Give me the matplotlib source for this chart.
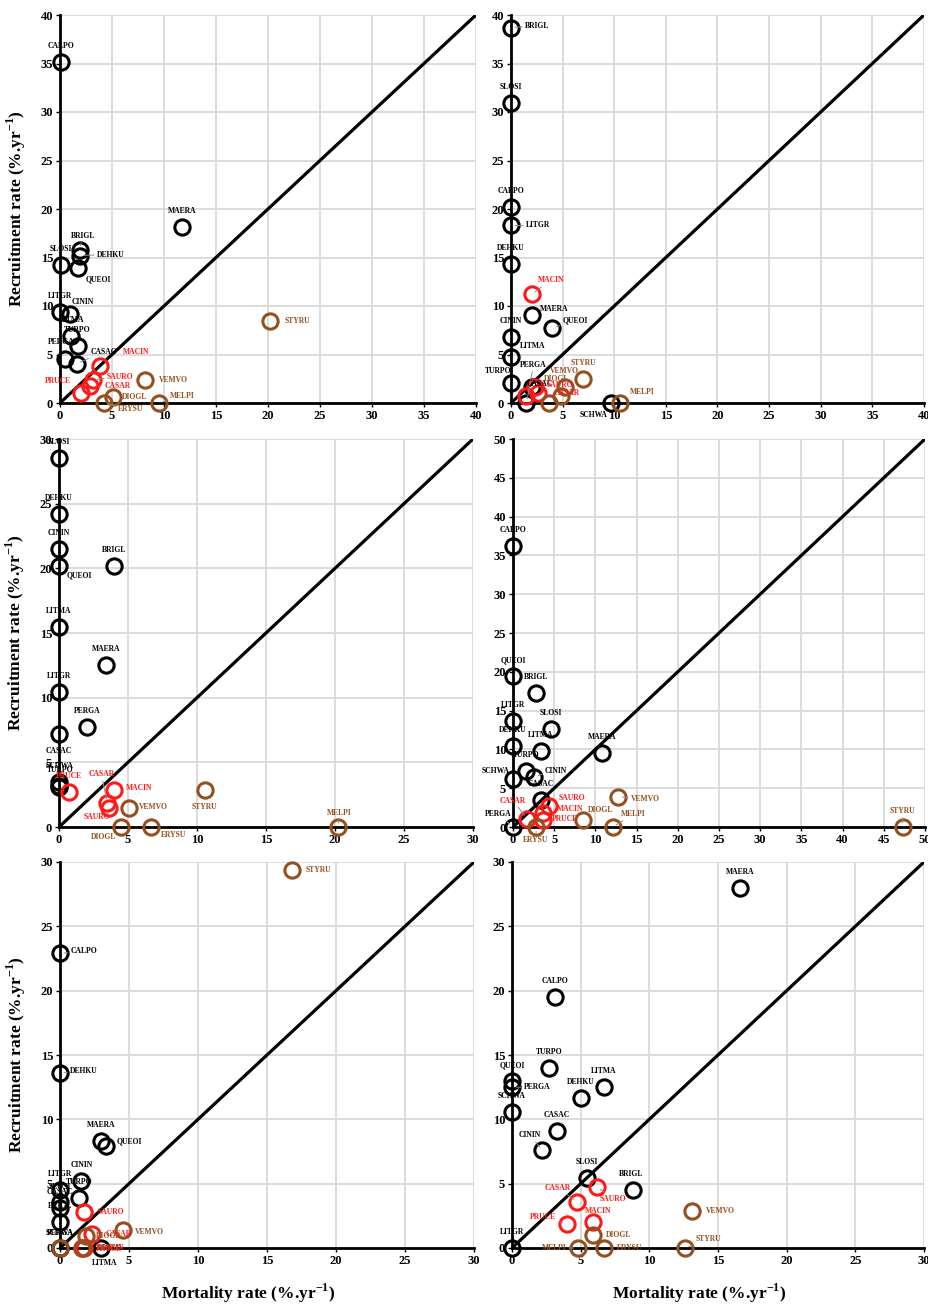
import numpy as np
import matplotlib
matplotlib.use('Agg')
import matplotlib.pyplot as plt

plt.rcParams['font.family'] = ['Liberation Serif', 'DejaVu Serif']
plt.rcParams['font.weight'] = 'bold'
plt.rcParams['mathtext.fontset'] = 'custom'
plt.rcParams['mathtext.rm'] = 'Liberation Serif:bold'
plt.rcParams['mathtext.bf'] = 'Liberation Serif:bold'

nan = np.nan

# Especies y grupo (1 = negro, 2 = rojo, 3 = marron)
especies = ['CALPO', 'BRIGL', 'SLOSI', 'DEHKU', 'QUEOI', 'LITGR', 'CININ', 'LITMA',
            'TURPO', 'PERGA', 'CASAC', 'MAERA', 'SCHWA',
            'MACIN', 'SAURO', 'CASAR', 'PRUCE',
            'STYRU', 'VEMVO', 'DIOGL', 'ERYSU', 'MELPI']
grupo = [1] * 13 + [2] * 4 + [3] * 5

# Mortalidad / reclutamiento por panel (%.yr-1)
mort_1 = [0.1, 1.9, 0.05, 1.9, 1.7, 0.0, 1.0, 1.1, 1.7, 0.5, 1.6, 11.7, nan,
          3.8, 3.2, 2.9, 2.0, 20.2, 8.2, 5.1, 4.2, 9.5]
rec_1 = [35.2, 15.8, 14.2, 15.2, 13.9, 9.4, 9.2, 6.9, 5.9, 4.5, 4.05, 18.1, nan,
         3.85, 2.4, 1.8, 1.0, 8.5, 2.4, 0.6, 0.0, 0.0]

mort_2 = [0, 0, 0, 0, 4.0, 0, 0, 0, 0, 1.5, 2.0, 2.0, 9.7,
          2.0, 2.3, 2.6, 1.45, 7.0, 5.2, 4.8, 3.7, 10.6]
rec_2 = [20.2, 38.7, 30.9, 14.3, 7.7, 18.3, 6.8, 4.7, 2.1, 0, 1.6, 9.1, 0,
         11.2, 1.7, 1.0, 0.7, 2.5, 1.6, 0.7, 0, 0]

mort_3 = [0, 4.0, 0, 0, 0, 0, 0, 0, 0, 2.05, 0, 3.4, 0,
          4.0, 3.6, 3.5, 0.7, 10.55, 5.05, 4.5, 6.7, 20.2]
rec_3 = [7.2, 20.2, 28.5, 24.2, 20.2, 10.4, 21.5, 15.45, 3.1, 7.7, 3.5, 12.5, 3.2,
         2.85, 1.45, 1.85, 2.7, 2.85, 1.5, 0, 0, 0]

mort_4 = [0, 2.8, 4.6, 0, 0, 0, 2.55, 3.4, 1.55, 0, 3.4, 10.8, 0,
          3.6, 4.4, 1.7, 3.6, 47.3, 12.75, 8.5, 2.8, 12.1]
rec_4 = [36.2, 17.3, 12.6, 10.4, 19.45, 13.6, 6.5, 9.8, 7.2, 0, 3.5, 9.5, 6.2,
         1.8, 2.7, 1.08, 0.95, 0, 3.9, 0.95, 0, 0]

mort_5 = [0, 0, 0, 0, 3.35, 0, 1.55, 3.0, 1.4, 0, 0, 2.95, 0,
          1.75, 1.75, 2.3, 1.6, 16.8, 4.55, 1.9, 1.6, 0]
rec_5 = [22.9, 2.0, 3.6, 13.6, 7.95, 4.5, 5.2, 0, 3.9, 0, 3.1, 8.3, 0,
         0, 2.8, 1.1, 0, 29.4, 1.4, 0.9, 0, 0]

mort_6 = [3.15, 8.8, 5.45, 5.0, 0, 0, 2.2, 6.7, 2.7, 0, 3.28, 16.6, 0,
          5.9, 6.2, 4.75, 4.0, 12.6, 13.1, 5.9, 6.7, 4.8]
rec_6 = [19.5, 4.5, 5.45, 11.67, 12.95, 0, 7.6, 12.5, 14.0, 12.5, 9.1, 28.0, 10.56,
         2.05, 4.75, 3.6, 1.86, 0, 2.9, 1.0, 0, 0]

limites = [40, 40, 30, 50, 30, 30]

# Posicion de las etiquetas (pixeles respecto al punto, linea guia); por defecto encima
etiq = [
    {'BRIGL': (3, 14, 1), 'DEHKU': (31, 1, 1), 'QUEOI': (21, -11, 0), 'CININ': (12, 12, 0),
     'PERGA': (-4, 17, 0), 'CASAC': (27, 12, 1), 'MACIN': (37, 14, 0), 'SAURO': (27, 3, 1),
     'CASAR': (28, 0, 0), 'PRUCE': (-23, 12, 0), 'STYRU': (27, 0, 0), 'VEMVO': (28, 0, 0),
     'DIOGL': (22, 0, 0), 'ERYSU': (27, -6, 1), 'MELPI': (23, 7, 1)},
    {'BRIGL': (26, 2, 1), 'LITGR': (27, 0, 1), 'MAERA': (22, 6, 0), 'QUEOI': (23, 8, 1),
     'LITMA': (22, 11, 0), 'TURPO': (-13, 12, 0), 'PERGA': (7, 38, 1), 'SCHWA': (-18, -12, 0),
     'CASAC': (8, 3, 0), 'MACIN': (19, 14, 1), 'SAURO': (25, 2, 0), 'CASAR': (29, 0, 0),
     'PRUCE': None, 'DIOGL': (-4, 17, 0), 'MELPI': (22, 11, 0), 'ERYSU': None},
    {'QUEOI': (20, -10, 0), 'CALPO': None, 'CASAC': (0, 31, 0), 'SCHWA': (1, 20, 0),
     'TURPO': (1, 17, 0), 'CASAR': (-6, 29, 1), 'MACIN': (25, 2, 0), 'SAURO': (-12, -9, 0),
     'STYRU': (0, -17, 0), 'VEMVO': (25, 1, 0), 'DIOGL': (-18, -10, 0), 'ERYSU': (22, -8, 0),
     'MELPI': (2, 14, 1)},
    {'SCHWA': (-17, 8, 0), 'CININ': (22, 6, 1), 'PERGA': (-15, 13, 1), 'CASAR': (-14, 18, 1),
     'SAURO': (23, 8, 0), 'MACIN': (27, 4, 0), 'PRUCE': (22, 1, 0), 'VEMVO': (27, -2, 1),
     'DIOGL': (18, 10, 0), 'MELPI': (21, 13, 1), 'ERYSU': (0, -13, 1), 'STYRU': (0, 16, 1)},
    {'STYRU': (27, 0, 0), 'CALPO': (24, 2, 1), 'DEHKU': (24, 2, 1), 'QUEOI': (23, 4, 0),
     'SLOSI': (0, 15, 0), 'PERGA': (0, 15, 0), 'SCHWA': (0, 15, 0), 'LITMA': (3, -15, 0),
     'SAURO': (27, 0, 0), 'CASAR': (27, 0, 0), 'MACIN': (27, 0, 0), 'PRUCE': (27, -1, 0),
     'VEMVO': (27, -2, 0), 'DIOGL': (22, 0, 0), 'ERYSU': (27, 0, 0), 'MELPI': None},
    {'PERGA': (25, 0, 1), 'CININ': (-12, 15, 1), 'BRIGL': (-2, 16, 0), 'SAURO': (16, -12, 1),
     'CASAR': (-20, 14, 1), 'MACIN': (5, 11, 0), 'PRUCE': (-24, 7, 1), 'VEMVO': (28, 0, 0),
     'DIOGL': (26, 0, 0), 'MELPI': (-24, 0, 1), 'ERYSU': (26, 0, 0), 'STYRU': (23, 9, 1)},
]

colores = {1: 'black', 2: '#ff1a1a', 3: '#94501f'}

# Caja de cada panel en pixeles: izquierda, derecha, arriba, abajo
cajas = [(60, 476, 15, 403), (511, 924, 15, 403),
         (59, 473, 439, 827), (513, 925, 439, 827),
         (60, 474, 862, 1248), (512, 924, 862, 1248)]

W, H = 929, 1306
fig = plt.figure(figsize=(W / 100, H / 100), dpi=100)

mortalidad = [mort_1, mort_2, mort_3, mort_4, mort_5, mort_6]
reclutamiento = [rec_1, rec_2, rec_3, rec_4, rec_5, rec_6]

for i in range(6):
    l, r, t, b = cajas[i]
    ax = fig.add_axes([l / W, 1 - b / H, (r - l) / W, (b - t) / H])
    lim = limites[i]
    ax.set_xlim(0, lim)
    ax.set_ylim(0, lim)
    ax.set_xticks(np.arange(0, lim + 1, 5))
    ax.set_yticks(np.arange(0, lim + 1, 5))
    ax.grid(True, color='#d9d9d9', lw=1.3)
    ax.set_axisbelow(True)
    for s in ['top', 'right']:
        ax.spines[s].set_visible(False)
    for s in ['left', 'bottom']:
        ax.spines[s].set_linewidth(2)
    ax.tick_params(labelsize=9, length=3, width=1, pad=2)

    ax.plot([0, lim], [0, lim], color='black', lw=2.3, zorder=2)

    m = mortalidad[i]
    rc = reclutamiento[i]
    for g in [1, 2, 3]:
        for j, sp in enumerate(especies):
            if grupo[j] != g or np.isnan(m[j]):
                continue
            ax.plot(m[j], rc[j], 'o', ms=11, mfc='none', mec=colores[g], mew=2.2,
                    clip_on=False, zorder=4)
    for j, sp in enumerate(especies):
        if np.isnan(m[j]):
            continue
        pos = etiq[i].get(sp, (0, 16, 0))
        if pos is None:
            continue
        dx, dy, linea = pos
        props = None
        if linea:
            props = dict(arrowstyle='-', color='#8c8c8c', lw=0.7, shrinkA=0, shrinkB=3)
        ax.annotate(sp, (m[j], rc[j]), xytext=(dx, dy), textcoords='offset pixels',
                    ha='center', va='center', fontsize=5.5, fontweight='bold',
                    color=colores[grupo[j]], arrowprops=props, annotation_clip=False,
                    zorder=5)

    if i % 2 == 0:
        ax.set_ylabel('Recruitment rate (%.yr$^{\\mathbf{-1}}$)', fontsize=12.5,
                      fontweight='bold')
        ax.yaxis.set_label_coords(-32 / (r - l), 0.5)
    if i >= 4:
        ax.set_xlabel('Mortality rate (%.yr$^{\\mathbf{-1}}$)', fontsize=12.5,
                      fontweight='bold')
        ax.xaxis.set_label_coords(0.455, -34 / (b - t))

fig.savefig('out.png', dpi=100)
